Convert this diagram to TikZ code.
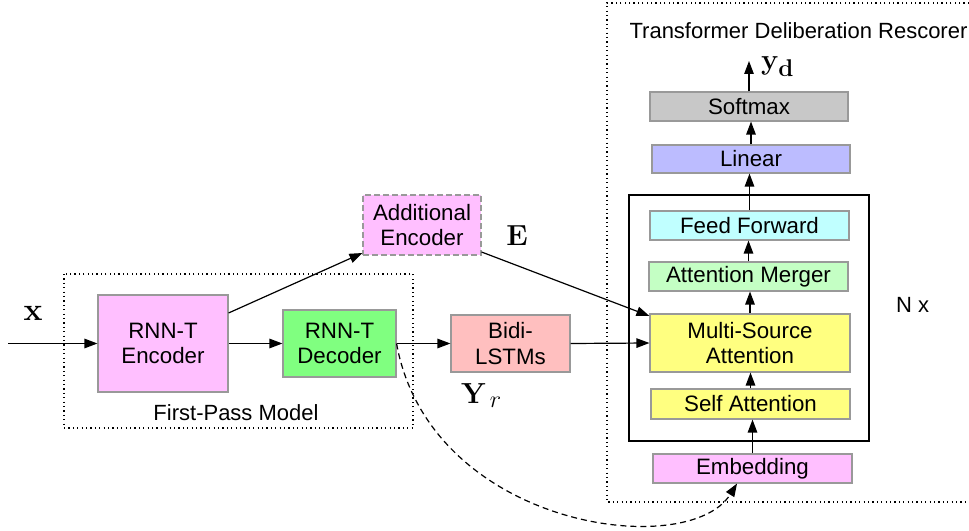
\documentclass[tikz,border=0pt]{standalone}
\usepackage[no-math]{fontspec}
\setmainfont{Liberation Sans}
\usetikzlibrary{arrows.meta,calc}
\definecolor{cgray}{HTML}{C8C8C8}
\definecolor{clin}{HTML}{BCBCFF}
\definecolor{cff}{HTML}{C0FFFF}
\definecolor{cam}{HTML}{C4FFC4}
\definecolor{cyel}{HTML}{FFFF80}
\definecolor{cpink}{HTML}{FFBFFF}
\definecolor{cgreen}{HTML}{80FF80}
\definecolor{cbidi}{HTML}{FFBFBF}
\definecolor{cedge}{HTML}{999999}
\tikzset{
  blk/.style={draw=cedge, line width=1.1bp, inner sep=0pt, align=center,
    font=\fontsize{22.3bp}{25.5bp}\selectfont},
  arr/.style={-{Triangle[length=13bp,width=9.5bp]}, line width=1.2bp},
  dotbox/.style={line width=1.2bp, dash pattern=on 1.2bp off 3.2bp},
  lbl/.style={font=\fontsize{22bp}{25.5bp}\selectfont, inner sep=0pt},
  mlbl/.style={font=\Huge, scale=1.17, inner sep=0pt}
}
\begin{document}
\begin{tikzpicture}[x=1bp,y=-1bp]
\useasboundingbox (0,0) rectangle (969,531);
% transformer dotted region
\draw[dotbox] (969,3) -- (607,3) -- (607,502) -- (969,502);
\node[lbl, anchor=base] (title) at (798.5,39) {Transformer Deliberation Rescorer};
% first-pass dotted box
\draw[dotbox] (64,274) rectangle (413,428);
\node[lbl, anchor=base] (fpm) at (236,420) {First-Pass Model};
% N x box
\node[draw=black, line width=1.3bp, minimum width=240bp, minimum height=246bp, inner sep=0pt] (nbox) at (749,318) {};
\node[lbl, anchor=base west] (nx) at (896,313) {N x};
% transformer blocks
\node[blk, fill=cgray, minimum width=198bp, minimum height=29bp] (soft) at (749,106.5) {Softmax};
\node[blk, fill=clin, minimum width=198bp, minimum height=28bp] (lin) at (751,159) {Linear};
\node[blk, fill=cff, minimum width=199bp, minimum height=29bp] (ff) at (749.5,225.5) {Feed Forward};
\node[blk, fill=cam, minimum width=199bp, minimum height=29bp] (am) at (748.5,276.5) {Attention Merger};
\node[blk, fill=cyel, minimum width=200bp, minimum height=58bp] (msa) at (750,343) {Multi-Source\\Attention};
\node[blk, fill=cyel, minimum width=199bp, minimum height=30bp] (sa) at (750.5,404) {Self Attention};
\node[blk, fill=cpink, minimum width=199bp, minimum height=29bp] (emb) at (752.5,468.5) {Embedding};
\node[mlbl, anchor=base west] (yd) at (761,70) {$\mathbf{y_d}$};
\coordinate (ydtip) at (749,61);
% left blocks
\node[blk, fill=cpink, minimum width=130bp, minimum height=97bp] (enc) at (163,343.5) {RNN-T\\Encoder};
\node[blk, fill=cgreen, minimum width=113bp, minimum height=67bp] (dec) at (339.5,343.5) {RNN-T\\Decoder};
\node[blk, fill=cpink, dashed, dash pattern=on 6bp off 3bp, minimum width=118bp, minimum height=60bp] (add) at (422,225) {Additional\\Encoder};
\node[blk, fill=cbidi, minimum width=119bp, minimum height=57bp] (bidi) at (510.5,343.5) {Bidi-\\LSTMs};
\node[mlbl, scale=1.1, anchor=base] (xl) at (33,321) {$\mathbf{x}$};
\node[mlbl, anchor=base] (el) at (517,246) {$\mathbf{E}$};
\node[mlbl, anchor=base west] (yr) at (461,403) {$\mathbf{Y}_{\,r}$};
\coordinate (xin) at (8,343.5);
% connectors
\draw[arr] (xin) -- (enc.west);
\draw[arr] (enc.east) -- (dec.west);
\draw[arr] (dec.east) -- (bidi.west);
\draw[arr] (bidi.east) -- (msa.west);
\draw[arr] (enc.east |- 0,313) -- (add.west |- 0,253);
\draw[arr] (add.east |- 0,252) -- (msa.west |- 0,316);
\draw[arr] (emb.north) -- (emb.north |- sa.south);
\draw[arr] (sa.north) -- (sa.north |- msa.south);
\draw[arr] (msa.north) -- (msa.north |- am.south);
\draw[arr] (am.north) -- (am.north |- ff.south);
\draw[arr] (ff.north) -- (ff.north |- lin.south);
\draw[arr] (lin.north) -- (lin.north |- soft.south);
\draw[arr] (soft.north) -- (ydtip);
\draw[arr, dash pattern=on 6bp off 4bp] (dec.east) .. controls (430,528) and (688,562) .. (emb.south -| 737,0);
\end{tikzpicture}
\end{document}
